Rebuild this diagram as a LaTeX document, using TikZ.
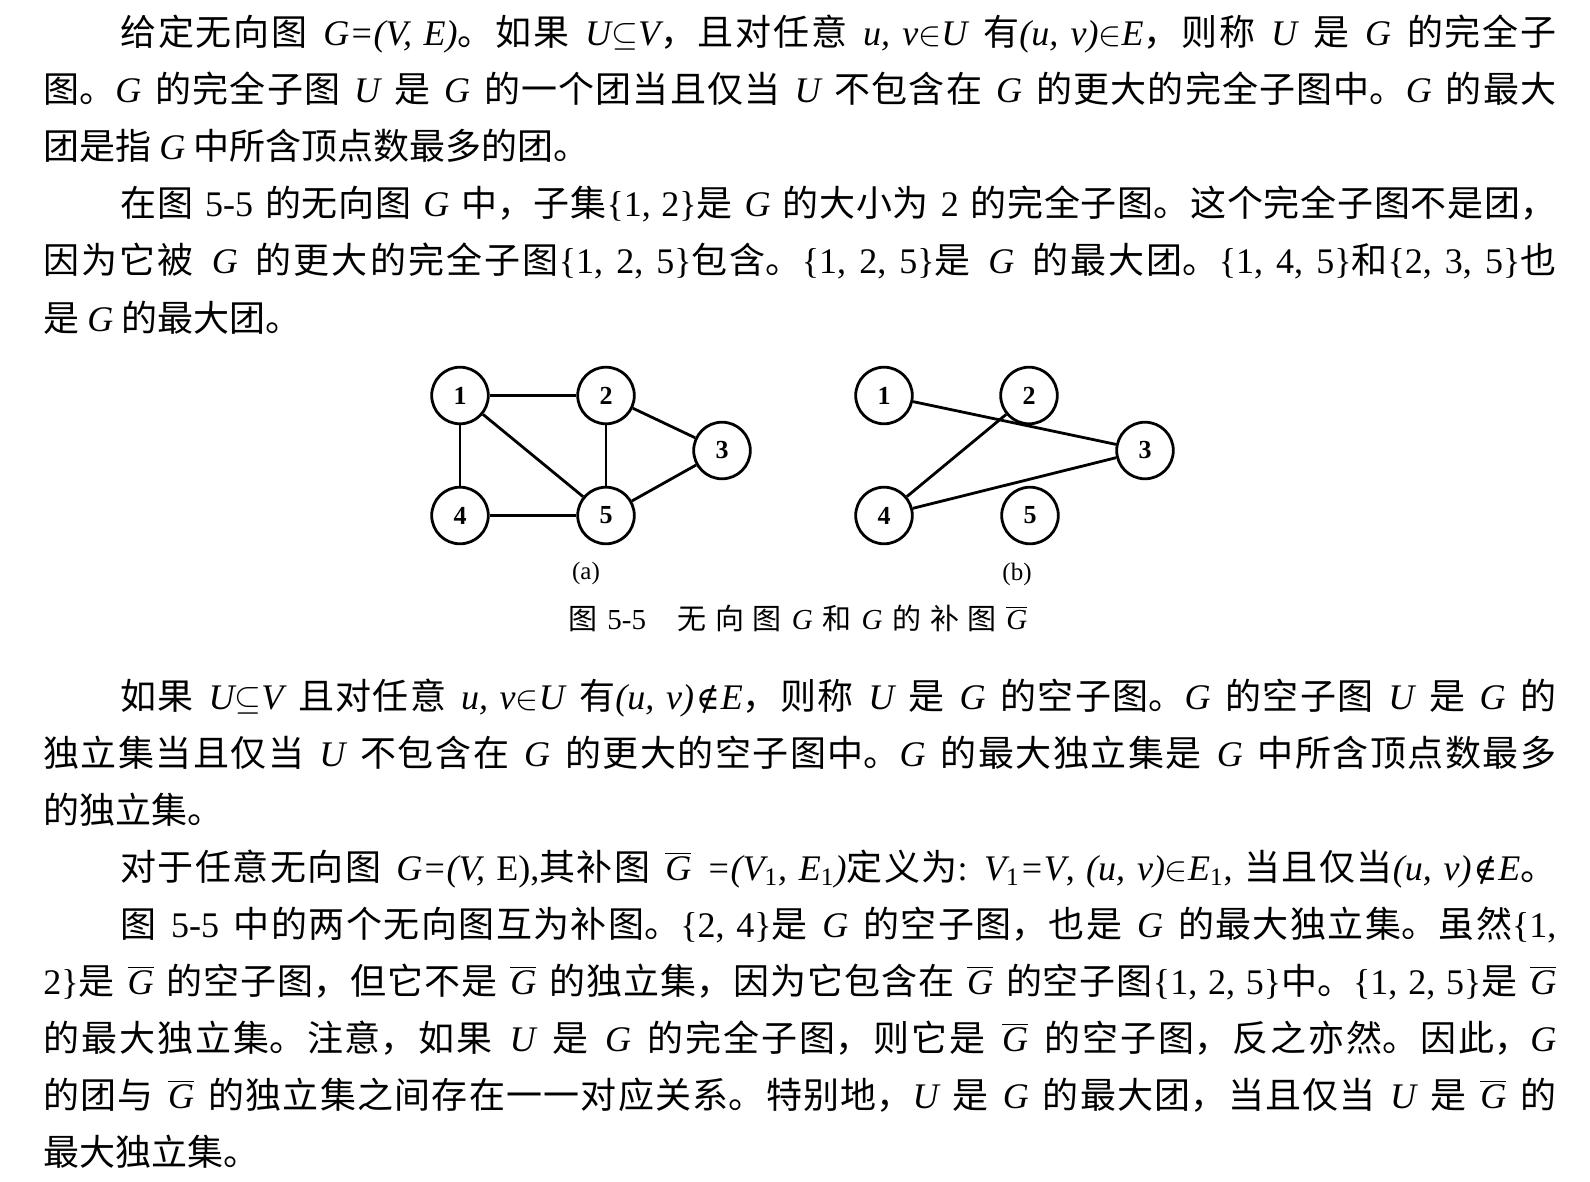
\documentclass[tikz,border=0pt]{standalone}
\usepackage{fontspec}
\setmainfont{Liberation Serif}
\newfontfamily\cjk{Noto Sans CJK SC}
\newfontfamily\lat{Liberation Serif}
\newfontfamily\symf{DejaVu Serif}
\XeTeXlinebreaklocale "zh"
\XeTeXlinebreakskip=0pt plus 1.5pt minus 0.3pt
\newcommand\I[1]{{\spaceskip=0pt\lat\itshape #1}}
\newcommand\R[1]{{\spaceskip=0pt\lat #1}}
\newcommand\Gb{\ensuremath{\overline{\hbox{\lat\itshape G}}}}
\newcommand\NI{\kern1pt{\symf\fontsize{16}{18}\selectfont ∉}\kern0.5pt}
\newcommand\JL[2]{\parbox[b]{#1}{\spaceskip=0.25em plus 6pt minus 1pt\parfillskip=0pt\parindent=0pt\tolerance=10000\hyphenpenalty=10000\relax #2}}
\newcommand\JA[1]{\JL{718pt}{#1}}
\newcommand\JB[1]{\JL{756.5pt}{#1}}
\tikzset{
  txt/.style={anchor=base west, inner sep=0pt, font=\fontsize{18}{20}\cjk},
  vtx/.style={draw, circle, line width=1.4pt, minimum size=28.3pt, inner sep=0pt, fill=white,
    font=\fontsize{13}{13}\lat\bfseries},
  edg/.style={line width=1.4pt},
  sublbl/.style={anchor=base, inner sep=0pt, font=\fontsize{12.5}{14}\lat},
  captxt/.style={anchor=base west, inner sep=0pt, font=\fontsize{14.5}{16}\cjk},
}
\begin{document}
\begin{tikzpicture}[x=0.5pt,y=-0.5pt]
\fill[white] (0,0) rectangle (1590,1182);
\useasboundingbox (0,0) rectangle (1590,1182);
% paragraph 1
\node[txt] (l1) at (120,46) {\JA{给定无向图 \I{G=(V, E)}。如果 \I{U}$\subseteq$\I{V}，且对任意 \I{u, v}$\in$\I{U} 有\I{(u, v)}$\in$\I{E}，则称 \I{U} 是 \I{G} 的完全子}};
\node[txt] (l2) at (43,103) {\JB{图。\I{G} 的完全子图 \I{U} 是 \I{G} 的一个团当且仅当 \I{U} 不包含在 \I{G} 的更大的完全子图中。\I{G} 的最大}};
\node[txt] (l3) at (43,160) {团是指 \I{G} 中所含顶点数最多的团。};
\node[txt] (l4) at (120,217) {\JA{在图 \R{5-5} 的无向图 \I{G} 中，子集\R{\{1, 2\}}是 \I{G} 的大小为 \R{2} 的完全子图。这个完全子图不是团，}};
\node[txt] (l5) at (43,274) {\JB{因为它被 \I{G} 的更大的完全子图\R{\{1, 2, 5\}}包含。\R{\{1, 2, 5\}}是 \I{G} 的最大团。\R{\{1, 4, 5\}}和\R{\{2, 3, 5\}}也}};
\node[txt] (l6) at (43,331) {是 \I{G} 的最大团。};
% graph (a)
\node[vtx] (a1) at (460,395.5) {1};
\node[vtx] (a2) at (606,395.5) {2};
\node[vtx] (a3) at (722,450.5) {3};
\node[vtx] (a4) at (460,515.5) {4};
\node[vtx] (a5) at (606,515.5) {5};
\draw[edg] (a1) -- (a2);
\draw[edg] (a1) -- (a4);
\draw[edg] (a1) -- (a5);
\draw[edg] (a2) -- (a5);
\draw[edg] (a2) -- (a3);
\draw[edg] (a4) -- (a5);
\draw[edg] (a5) -- (a3);
% graph (b)
\node[vtx] (b1) at (884,395.5) {1};
\node[vtx] (b2) at (1029,395.5) {2};
\node[vtx] (b3) at (1145,450.5) {3};
\node[vtx] (b4) at (884,515.5) {4};
\node[vtx] (b5) at (1030,515.5) {5};
\draw[edg] (b1) -- (b3);
\draw[edg] (b2) -- (b4);
\draw[edg] (b4) -- (b3);
\node[sublbl] (la) at (586,579) {(a)};
\node[sublbl] (lb) at (1017,580) {(b)};
\node[captxt] (capt) at (568,629) {\parbox[b]{229.5pt}{\parfillskip=0pt\parindent=0pt\tolerance=10000\XeTeXlinebreakskip=0pt plus 4pt\relax 图 \R{5-5}\hspace{1.1em}无向图 \I{G} 和 \I{G} 的补图 \Gb}};
% paragraph 2
\node[txt] (m1) at (120,709.5) {\JA{如果 \I{U}$\subseteq$\I{V} 且对任意 \I{u, v}$\in$\I{U} 有\I{(u, v)}\NI\I{E}，则称 \I{U} 是 \I{G} 的空子图。\I{G} 的空子图 \I{U} 是 \I{G} 的}};
\node[txt] (m2) at (43,766.5) {\JB{独立集当且仅当 \I{U} 不包含在 \I{G} 的更大的空子图中。\I{G} 的最大独立集是 \I{G} 中所含顶点数最多}};
\node[txt] (m3) at (43,823.5) {的独立集。};
\node[txt] (m4) at (120,880.5) {\JA{对于任意无向图 \I{G=(V, }\R{E),}其补图 \Gb{} \I{=(V}\R{\textsubscript{1}}\I{, E}\R{\textsubscript{1}}\I{)}定义为\R{: }\I{V}\R{\textsubscript{1}}\I{=V}\R{, }\I{(u, v)}$\in$\I{E}\R{\textsubscript{1}}\R{, }当且仅当\I{(u, v)}\NI\I{E}。}};
\node[txt] (m5) at (120,937.5) {\JA{图 \R{5-5} 中的两个无向图互为补图。\R{\{2, 4\}}是 \I{G} 的空子图，也是 \I{G} 的最大独立集。虽然\R{\{1,}}};
\node[txt] (m6) at (43,994.5) {\JB{\R{2\}}是 \Gb{} 的空子图，但它不是 \Gb{} 的独立集，因为它包含在 \Gb{} 的空子图\R{\{1, 2, 5\}}中。\R{\{1, 2, 5\}}是 \Gb}};
\node[txt] (m7) at (43,1051.5) {\JB{的最大独立集。注意，如果 \I{U} 是 \I{G} 的完全子图，则它是 \Gb{} 的空子图，反之亦然。因此，\I{G}}};
\node[txt] (m8) at (43,1108.5) {\JB{的团与 \Gb{} 的独立集之间存在一一对应关系。特别地，\I{U} 是 \I{G} 的最大团，当且仅当 \I{U} 是 \Gb{} 的}};
\node[txt] (m9) at (43,1165.5) {最大独立集。};
\end{tikzpicture}
\end{document}
